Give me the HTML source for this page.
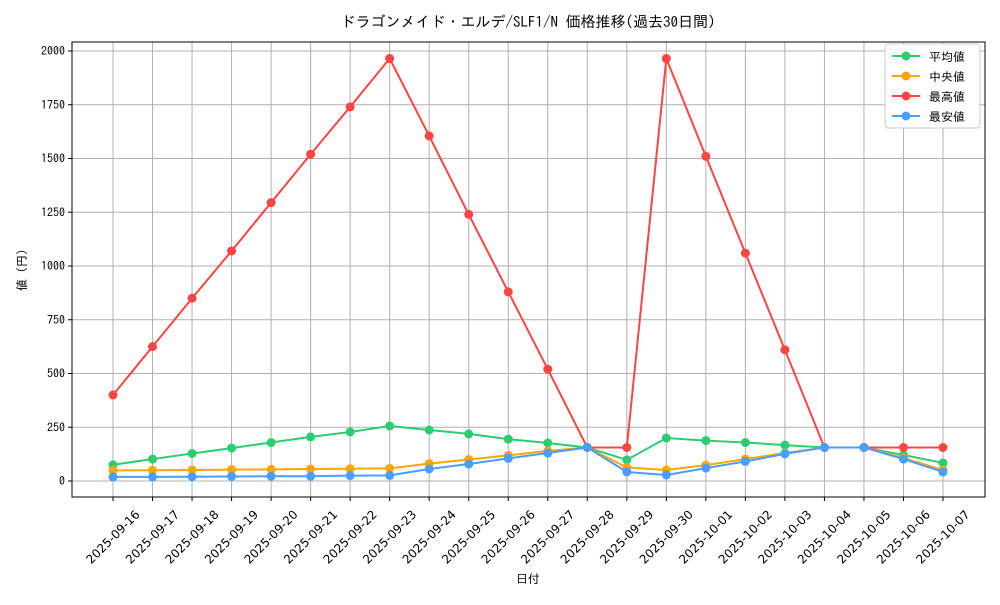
<!DOCTYPE html>
<html><head><meta charset="utf-8"><style>
body{margin:0;background:#fff}
svg{font-family:"IPAGothic","Noto Sans CJK JP",sans-serif}
</style></head><body>
<svg id="chart" width="1000" height="600" viewBox="0 0 1000 600">
<rect width="1000" height="600" fill="#fff"/>
<text x="528" y="27" text-anchor="middle" font-size="15">ドラゴンメイド・エルデ/SLF1/N 価格推移(過去30日間)</text>
<g id="grid"></g><g id="axes"></g><g id="series"></g>
<text x="528" y="583" text-anchor="middle" font-size="12">日付</text>
<text transform="translate(26,270) rotate(-90)" text-anchor="middle" font-size="12">値 (円)</text>
<g id="legend"></g>
</svg>
<script>
const categories=["2025-09-16","2025-09-17","2025-09-18","2025-09-19","2025-09-20","2025-09-21","2025-09-22","2025-09-23","2025-09-24","2025-09-25","2025-09-26","2025-09-27","2025-09-28","2025-09-29","2025-09-30","2025-10-01","2025-10-02","2025-10-03","2025-10-04","2025-10-05","2025-10-06","2025-10-07"];
const avgValues=[75,102,128,153,179,205,228,256,237,219,195,177,156,98,200,188,179,167,156,156,121,84];
const medianValues=[49,50,51,53,54,56,57,59,81,100,119,140,156,63,51,74,102,130,156,156,107,51];
const maxValues=[400,625,850,1070,1295,1520,1740,1965,1605,1240,880,520,156,156,1965,1510,1060,610,156,156,156,156];
const minValues=[19,19,20,21,22,22,25,26,56,79,105,130,156,42,28,60,91,126,156,156,102,42];
const yTicks=[0,250,500,750,1000,1250,1500,1750,2000];
const seriesNames=["平均値","中央値","最高値","最安値"];
const NS="http://www.w3.org/2000/svg";
const L=72,R=985,T=42,B=497;
const x=i=>113+i*(943-113)/(categories.length-1);
const y=v=>481-v*(430/2000);
function mk(tag,attrs,parent){const e=document.createElementNS(NS,tag);for(const k in attrs)e.setAttribute(k,attrs[k]);parent.appendChild(e);return e;}
const grid=document.getElementById('grid'),axes=document.getElementById('axes'),ser=document.getElementById('series'),leg=document.getElementById('legend');
categories.forEach((c,i)=>{
 const g=mk('line',{x1:x(i),x2:x(i),y1:T,y2:B,stroke:'#b0b0b0','stroke-width':1},grid);
 
 
 mk('line',{x1:x(i),x2:x(i),y1:B,y2:B+4,stroke:'#000'},axes);
 const ax=x(i),ay=537;
 const t=mk('text',{x:ax,y:ay+4,'text-anchor':'middle','font-size':12,'font-family':'"DejaVu Sans",sans-serif',transform:`rotate(-45 ${ax} ${ay})`},axes);
 t.textContent=c;
 
 
});
yTicks.forEach(v=>{
 const g=mk('line',{x1:L,x2:R,y1:y(v),y2:y(v),stroke:'#b0b0b0','stroke-width':1},grid);
 
 
 mk('line',{x1:L-4,x2:L,y1:y(v),y2:y(v),stroke:'#000'},axes);
 const t=mk('text',{x:L-7,y:y(v)+4,'text-anchor':'end','font-size':12},axes);
 t.textContent=v;
 
 
});
const frame=mk('rect',{x:L,y:T,width:R-L,height:B-T,fill:'none',stroke:'#000','stroke-width':1},axes);


const series=[[avgValues,'#2ecc71','average'],[medianValues,'#ffa500','median'],[maxValues,'#ff4444','max'],[minValues,'#4a9eff','min']];
series.forEach(([vals,col,nm])=>{
 const g=mk('g',{},ser);
 
 
 const p=mk('polyline',{points:vals.map((v,i)=>x(i)+','+y(v)).join(' '),fill:'none',stroke:col,'stroke-width':2},g);
 
 
 vals.forEach((v,i)=>{
  const c=mk('circle',{cx:x(i),cy:y(v),r:4.5,fill:col},g);
  
  
 });
});
const lb=mk('rect',{x:885,y:44,width:95,height:84,fill:'#fff',stroke:'#ccc',rx:3},leg);


series.forEach(([v,col,nm],i)=>{
 const yy=56+i*20;
 const g=mk('g',{},leg);
 
 
 mk('line',{x1:892,x2:920,y1:yy,y2:yy,stroke:col,'stroke-width':2},g);
 mk('circle',{cx:906,cy:yy,r:4.5,fill:col},g);
 const t=mk('text',{x:929,y:yy+5,'font-size':12},g);
 t.textContent=(i===1?' ':'')+seriesNames[i];
});
</script>
</body></html>
